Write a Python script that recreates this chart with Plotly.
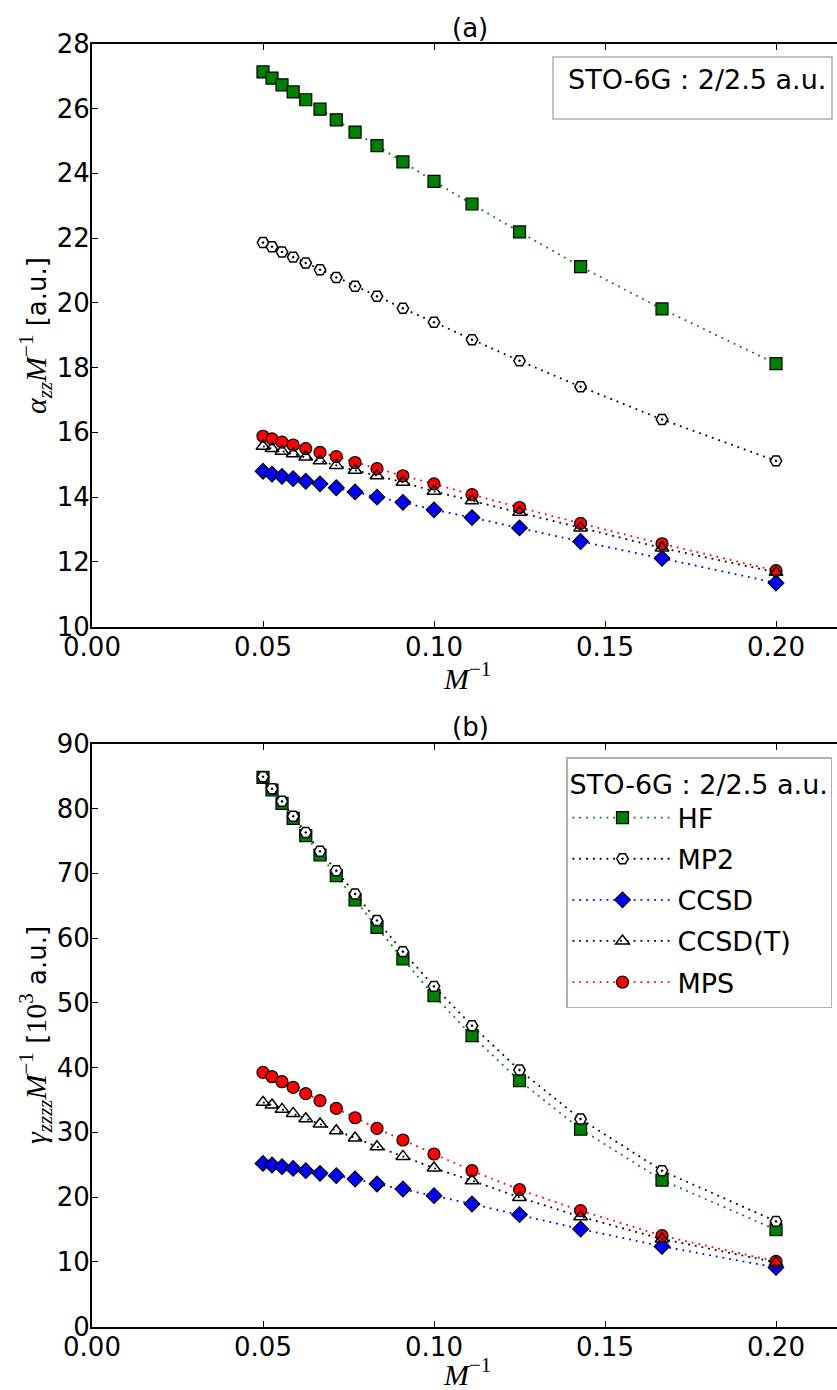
import plotly.graph_objects as go

# ---------------- data ----------------
x_inv_M = [0.05, 0.05263, 0.05556, 0.05882, 0.0625, 0.06667, 0.07143, 0.07692,
           0.08333, 0.09091, 0.1, 0.11111, 0.125, 0.14286, 0.16667, 0.2]

alpha_HF = [27.13, 26.94, 26.73, 26.51, 26.27, 25.98, 25.65, 25.27, 24.85, 24.35,
            23.75, 23.05, 22.19, 21.12, 19.81, 18.12]
alpha_MP2 = [21.86, 21.73, 21.57, 21.41, 21.23, 21.02, 20.78, 20.51, 20.20, 19.83,
             19.40, 18.86, 18.21, 17.41, 16.40, 15.12]
alpha_CCSD = [14.80, 14.71, 14.64, 14.57, 14.49, 14.41, 14.29, 14.16, 14.00, 13.84,
              13.61, 13.37, 13.05, 12.63, 12.11, 11.35]
alpha_CCSDT = [15.57, 15.50, 15.42, 15.34, 15.24, 15.12, 14.98, 14.83, 14.66, 14.46,
               14.18, 13.89, 13.53, 13.05, 12.43, 11.68]
alpha_MPS = [15.88, 15.80, 15.70, 15.61, 15.50, 15.38, 15.25, 15.07, 14.88, 14.66,
             14.41, 14.08, 13.68, 13.19, 12.56, 11.73]

gamma_HF = [84.80, 82.85, 80.78, 78.47, 75.80, 72.82, 69.62, 65.87, 61.64, 56.76,
            51.10, 44.92, 37.97, 30.51, 22.64, 14.97]
gamma_MP2 = [84.9, 83.05, 81.1, 78.8, 76.3, 73.4, 70.4, 66.8, 62.7, 57.9,
             52.54, 46.47, 39.62, 32.06, 24.08, 16.26]
gamma_CCSD = [25.21, 24.96, 24.70, 24.44, 24.08, 23.67, 23.31, 22.80, 22.03, 21.26,
              20.22, 18.94, 17.29, 15.08, 12.40, 9.15]
gamma_CCSDT = [34.63, 34.22, 33.55, 32.93, 32.11, 31.29, 30.26, 29.13, 27.79, 26.29,
               24.49, 22.54, 19.96, 16.98, 13.54, 9.93]
gamma_MPS = [39.26, 38.59, 37.82, 36.94, 35.97, 34.89, 33.70, 32.26, 30.61, 28.82,
             26.66, 24.08, 21.15, 17.91, 14.05, 10.08]

methods = ["HF", "MP2", "CCSD", "MPS", "CCSD(T)"]   # drawing order
legend_rank = {"HF": 1, "MP2": 2, "CCSD": 3, "CCSD(T)": 4, "MPS": 5}
alpha_data = {"HF": alpha_HF, "MP2": alpha_MP2, "CCSD": alpha_CCSD,
              "CCSD(T)": alpha_CCSDT, "MPS": alpha_MPS}
gamma_data = {"HF": gamma_HF, "MP2": gamma_MP2, "CCSD": gamma_CCSD,
              "CCSD(T)": gamma_CCSDT, "MPS": gamma_MPS}

legend_title = "STO-6G : 2/2.5 a.u."

# ---------------- styles ----------------
styles = {
    "HF": dict(line_color="#008000", symbol="square", color="#008000", size=12),
    "MP2": dict(line_color="black", symbol="hexagon2-dot", color="white", size=11.5),
    "CCSD": dict(line_color="#0000ff", symbol="diamond", color="#0000ff", size=12),
    "CCSD(T)": dict(line_color="black", symbol="triangle-up-open", color="black", size=12),
    "MPS": dict(line_color="#ff0000", symbol="circle", color="#ff0000", size=12),
}

W, H = 837, 1390
L = 92
fig = go.Figure()

for panel, data, xa, ya in [("a", alpha_data, "x", "y"), ("b", gamma_data, "x2", "y2")]:
    for m in methods:
        s = styles[m]
        mline = dict(color="black", width=1.5 if m in ("CCSD(T)", "MP2") else 1.2)
        fig.add_trace(go.Scatter(
            x=x_inv_M, y=data[m], name=m, mode="lines+markers",
            xaxis=xa, yaxis=ya, legendgroup=m,
            line=dict(color=s["line_color"], width=1.8, dash="1.8px,5px"),
            marker=dict(symbol=s["symbol"], color=s["color"], size=s["size"], line=mline),
            showlegend=(panel == "b"), legendrank=legend_rank[m],
        ))

tickfont = dict(family="DejaVu Sans", size=26, color="black")
xcommon = dict(range=[0, (W - L) / 3420], tickvals=[0, 0.05, 0.1, 0.15, 0.2],
               ticktext=["0.00", "0.05", "0.10", "0.15", "0.20"],
               ticks="inside", ticklen=6, tickwidth=1.3, tickcolor="black",
               showline=True, linewidth=2, linecolor="black", mirror="ticks",
               showgrid=False, zeroline=False, tickfont=tickfont, automargin=False,
               ticklabelstandoff=-4)
ycommon = dict(ticks="inside", ticklen=6, tickwidth=1.3, tickcolor="black",
               showline=True, linewidth=2, linecolor="black", mirror=False,
               showgrid=False, zeroline=False, tickfont=tickfont, automargin=False,
               ticklabelstandoff=-5)

def py(p):
    return (H - p) / H

def px(p):
    return (p - L) / (W - L)

fig.update_layout(
    template="none",
    width=W, height=H,
    margin=dict(l=L, r=0, t=0, b=0, autoexpand=False),
    paper_bgcolor="white", plot_bgcolor="white",
    xaxis=dict(domain=[0, 1], anchor="y", **xcommon),
    yaxis=dict(domain=[py(626.7), py(43.7)], anchor="x", range=[10, 28],
               tickvals=list(range(10, 29, 2)), **ycommon),
    xaxis2=dict(domain=[0, 1], anchor="y2", **xcommon),
    yaxis2=dict(domain=[py(1326.7), py(743.7)], anchor="x2", range=[0, 90],
                tickvals=list(range(0, 91, 10)), **ycommon),
    legend=dict(
        title=dict(text=legend_title, font=dict(family="DejaVu Sans", size=27, color="black")),
        font=dict(family="DejaVu Sans", size=27, color="black"),
        x=px(832), xanchor="right", y=py(757), yanchor="top",
        bordercolor="#b0b0b0", borderwidth=1.5, bgcolor="white",
        itemwidth=100, tracegroupgap=3, traceorder="grouped",
    ),
    showlegend=True,
)

serif = "font-family:Liberation Serif;font-size:30px"
ylab_a = (f"<span style='{serif}'><i>α<sub>zz</sub>M</i><sup>−1</sup></span> [a.u.]")
ylab_b = (f"<span style='{serif}'><i>γ<sub>zzzz</sub>M</i><sup>−1</sup></span> "
          f"[<span style='{serif}'>10<sup>3</sup></span> a.u.]")
xlab = f"<span style='{serif}'><i>M</i><sup>−1</sup></span>"

sans = dict(family="DejaVu Sans", size=26, color="black")
C = dict(xref="paper", yref="paper", showarrow=False, font=sans,
         xanchor="center", yanchor="middle")
ann = [
    dict(text="(a)", x=px(470), y=py(28), **C),
    dict(text="(b)", x=px(470), y=py(727), **C),
    dict(text=xlab, x=px(467), y=py(676), **C),
    dict(text=xlab, x=px(467), y=py(1372), **C),
    dict(text=ylab_a, x=px(35), y=py(336), textangle=-90, **C),
    dict(text=ylab_b, x=px(35), y=py(1035), textangle=-90, **C),
    dict(text=legend_title, x=px(566), y=py(80), xref="paper", yref="paper",
         showarrow=False, xanchor="left", yanchor="middle",
         font=dict(family="DejaVu Sans", size=27, color="black")),
]
fig.update_layout(annotations=ann)

fig.add_shape(type="rect", xref="paper", yref="paper",
              x0=px(553), x1=px(832), y0=py(119), y1=py(57),
              line=dict(color="#b0b0b0", width=1.5), fillcolor="white", layer="below")

fig.write_html("out.html", config={"displayModeBar": False},
               post_script="document.body.style.margin='0px';document.body.style.overflow='hidden';")
